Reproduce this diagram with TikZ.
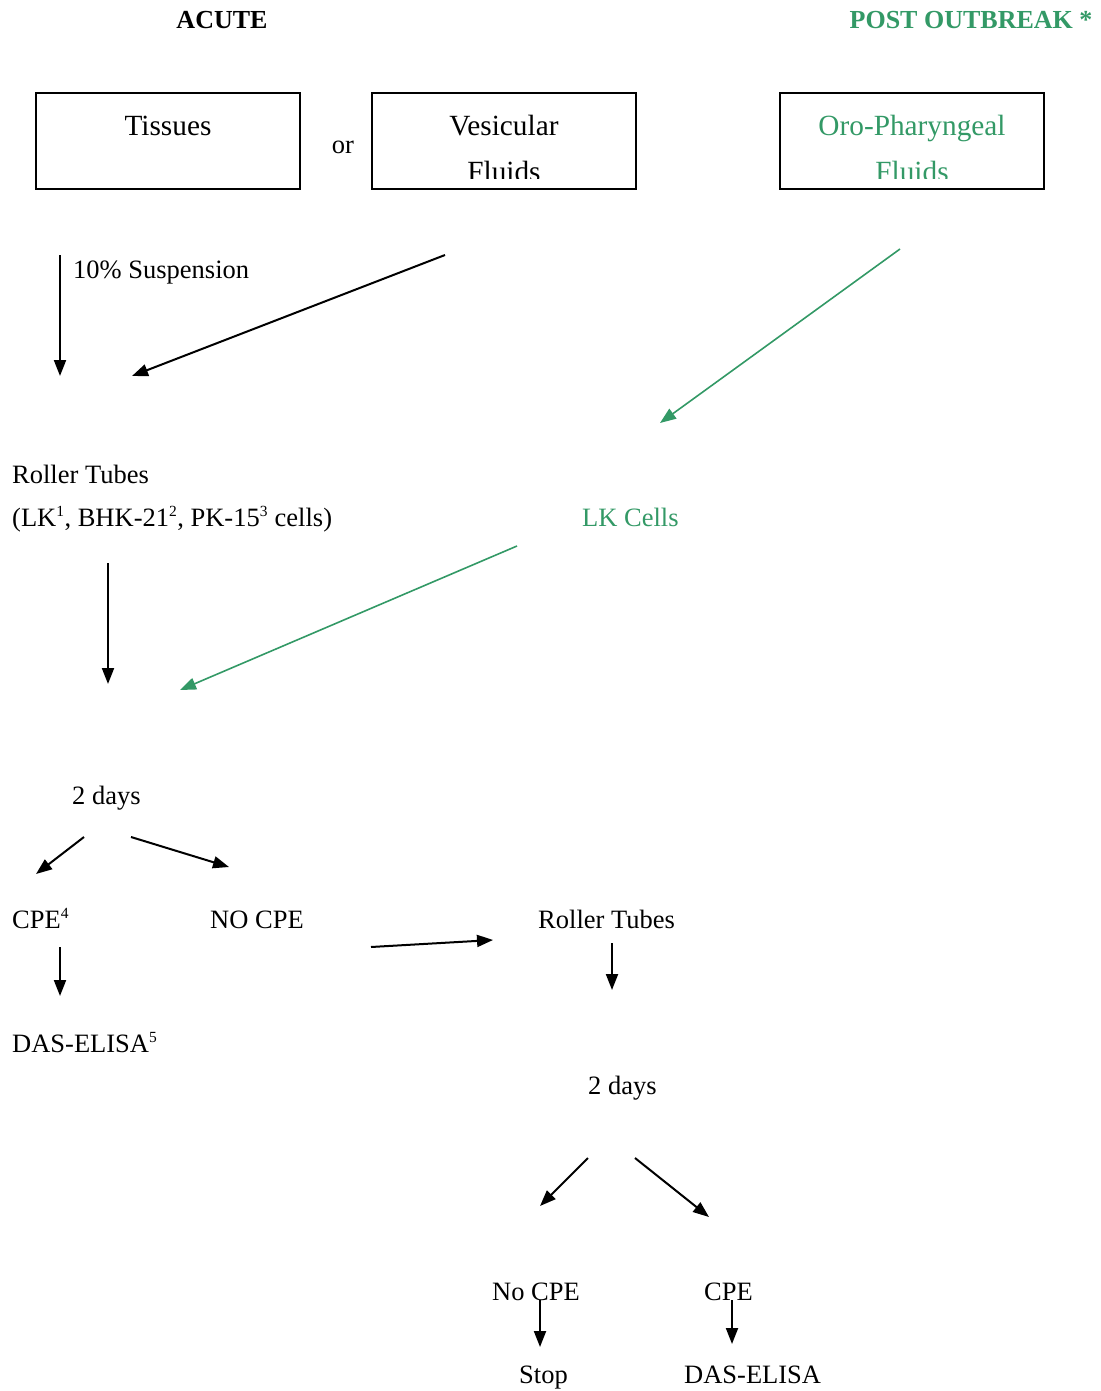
\documentclass[tikz,border=0pt]{standalone}
\usepackage{fontspec}
\setmainfont{Liberation Serif}
\usetikzlibrary{arrows.meta}
\definecolor{sea}{RGB}{51,153,102}
\tikzset{
  txt/.style={inner sep=0pt,anchor=base west,font=\fontsize{26.5}{30}\selectfont},
  ctxt/.style={inner sep=0pt,anchor=base,font=\fontsize{26.5}{30}\selectfont},
  btxt/.style={inner sep=0pt,anchor=base,font=\fontsize{29.3}{33}\selectfont},
  ttl/.style={inner sep=0pt,anchor=base,font=\fontsize{26}{30}\selectfont\bfseries},
  sbox/.style={draw=black,line width=2pt},
  arr/.style={line width=2pt,-{Triangle[length=16pt,width=12pt]}},
  garr/.style={draw=sea,line width=1.6pt,-{Triangle[length=16pt,width=12pt]},fill=sea},
}
\newcommand{\sps}[1]{\textsuperscript{\fontsize{15.5}{15.5}\selectfont #1}}
\begin{document}
\begin{tikzpicture}[x=1pt,y=-1pt]
\useasboundingbox (0,0) rectangle (1100,1391);
% titles
\node[ttl] (acute) at (222,29) {ACUTE};
\node[ttl,text=sea] (post) at (971,29) {POST OUTBREAK *};
% boxes
\draw[sbox] (36,93) rectangle (300,189);
\node[btxt] (tis) at (168,136) {Tissues};
\node[ctxt] (or) at (343,154) {or};
\draw[sbox] (372,93) rectangle (636,189);
\begin{scope}
\clip (372,93) rectangle (636,179);
\node[btxt] (ves) at (504,136) {Vesicular};
\node[btxt] (vesf) at (504,182) {Fluids};
\end{scope}
\draw[sbox] (780,93) rectangle (1044,189);
\begin{scope}
\clip (780,93) rectangle (1044,179);
\node[btxt,text=sea] (oro) at (912,136) {Oro-Pharyngeal};
\node[btxt,text=sea] (orof) at (912,182) {Fluids};
\end{scope}
% coordinates
\coordinate (a1s) at (60,255); \coordinate (a1e) at (60,376);
\coordinate (a2s) at (445,255); \coordinate (a2e) at (132,376);
\coordinate (g1s) at (900,249); \coordinate (g1e) at (660,423);
\coordinate (a3s) at (108,563); \coordinate (a3e) at (108,684);
\coordinate (g2s) at (517,546); \coordinate (g2e) at (180,690);
\coordinate (a4s) at (84,837); \coordinate (a4e) at (36,874);
\coordinate (a5s) at (131,837); \coordinate (a5e) at (229,867);
\coordinate (a6s) at (60,947); \coordinate (a6e) at (60,996);
\coordinate (a7s) at (371,947); \coordinate (a7e) at (493,940);
\coordinate (a8s) at (612,943); \coordinate (a8e) at (612,990);
\coordinate (a9s) at (588,1158); \coordinate (a9e) at (540,1206);
\coordinate (a10s) at (635,1158); \coordinate (a10e) at (709,1217);
\coordinate (a11s) at (540,1300); \coordinate (a11e) at (540,1347);
\coordinate (a12s) at (732,1300); \coordinate (a12e) at (732,1344);
% texts
\node[txt] (susp) at (73,278) {10\% Suspension};
\node[txt] (rt1) at (12,483) {Roller Tubes};
\node[txt] (cells) at (12,526) {(LK\sps{1}, BHK-21\sps{2}, PK-15\sps{3} cells)};
\node[txt,text=sea] (lk) at (582,526) {LK Cells};
\node[txt] (d1) at (72,804) {2 days};
\node[txt] (cpe1) at (12,928) {CPE\sps{4}};
\node[txt] (nocpe1) at (210,928) {NO CPE};
\node[txt] (rt2) at (538,928) {Roller Tubes};
\node[txt] (das1) at (12,1052) {DAS-ELISA\sps{5}};
\node[txt] (d2) at (588,1094) {2 days};
\node[txt] (nocpe2) at (492,1300) {No CPE};
\node[txt] (cpe2) at (704,1300) {CPE};
\node[txt] (stop) at (519,1383) {Stop};
\node[txt] (das2) at (684,1383) {DAS-ELISA};
% arrows
\draw[arr] (a1s) -- (a1e);
\draw[arr] (a2s) -- (a2e);
\draw[garr] (g1s) -- (g1e);
\draw[arr] (a3s) -- (a3e);
\draw[garr] (g2s) -- (g2e);
\draw[arr] (a4s) -- (a4e);
\draw[arr] (a5s) -- (a5e);
\draw[arr] (a6s) -- (a6e);
\draw[arr] (a7s) -- (a7e);
\draw[arr] (a8s) -- (a8e);
\draw[arr] (a9s) -- (a9e);
\draw[arr] (a10s) -- (a10e);
\draw[arr] (a11s) -- (a11e);
\draw[arr] (a12s) -- (a12e);
\end{tikzpicture}
\end{document}
